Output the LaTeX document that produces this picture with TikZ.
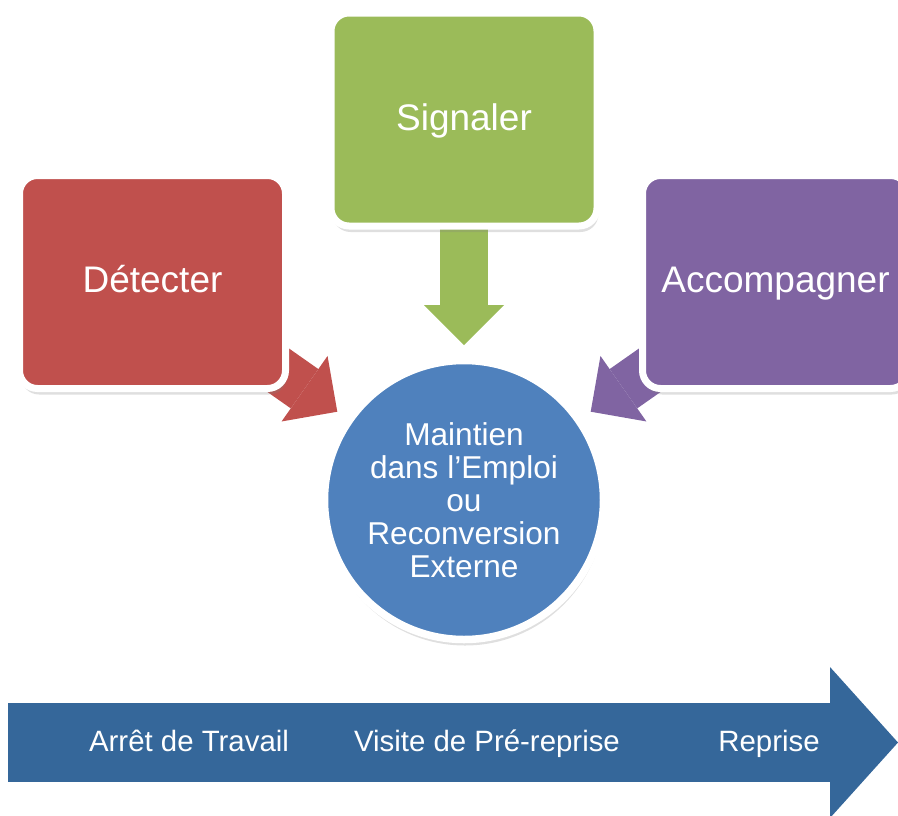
\documentclass[tikz,border=0pt]{standalone}
\usepackage{fontspec}
\setmainfont{Liberation Sans}
\usetikzlibrary{arrows.meta,shadows,backgrounds}

\definecolor{detred}{HTML}{C0504D}
\definecolor{siggreen}{HTML}{9BBB59}
\definecolor{accpurple}{HTML}{8064A2}
\definecolor{goalblue}{HTML}{4F81BD}
\definecolor{timeblue}{HTML}{35679A}

\tikzset{
  stepbox/.style={rounded corners=18pt, draw=white, line width=7pt,
    minimum width=266pt, minimum height=213pt, inner sep=0pt,
    text=white, font=\fontsize{37}{44}\selectfont,
    text height=28pt, text depth=7pt,
    drop shadow={shadow xshift=1.5pt, shadow yshift=-6pt, opacity=.25}},
  goalcircle/.style={circle, draw=white, line width=7.5pt, fill=goalblue,
    minimum size=279pt, inner sep=0pt, align=center,
    text=white, font=\fontsize{31.6}{33}\selectfont,
    drop shadow={shadow xshift=1pt, shadow yshift=-6pt, opacity=.25}},
  blockarrow/.style={line width=48pt,
    -{Triangle[width=80pt, length=40pt, line width=0pt]}},
  timetext/.style={text=white, font=\fontsize{29.4}{33}\selectfont,
    text height=21pt, text depth=6pt}
}

\begin{document}
\begin{tikzpicture}[x=1pt, y=-1pt]
    \useasboundingbox (0,0) rectangle (898,815);
    \clip (0,0) rectangle (898,815);

    % ====== CENTRE ======
    \node[goalcircle] (goal) at (464,500)
      {Maintien\\dans l’Emploi\\ou\\Reconversion\\Externe};

    % ====== THREE STEPS ======
    \node[stepbox, fill=detred] (det) at (152.5,282) {Détecter};
    \node[stepbox, fill=siggreen] (sig) at (464,119.5) {Signaler};
    \node[stepbox, fill=accpurple] (acc) at (775.5,282) {Accompagner};

    % Arrow tips next to the circle
    \coordinate (tipD) at (337.3,411.7);
    \coordinate (tipS) at (464,345);
    \coordinate (tipA) at (590.7,411.7);

    % Block arrows (behind the boxes)
    \begin{scope}[on background layer]
      \draw[blockarrow, detred] (det.center) -- (tipD);
      \draw[blockarrow, siggreen] (sig.center) -- (tipS);
      \draw[blockarrow, accpurple] (acc.center) -- (tipA);
    \end{scope}

    % ====== TIMELINE ======
    \coordinate (tlstart) at (8,742.5);
    \coordinate (tlend) at (898,742.5);
    \draw[timeblue, line width=79pt,
      -{Triangle[width=151pt, length=68pt, line width=0pt]}] (tlstart) -- (tlend);

    \node[timetext] (arret) at (189,744) {Arrêt de Travail};
    \node[timetext] (visite) at (487,744) {Visite de Pré-reprise};
    \node[timetext] (reprise) at (769,744) {Reprise};

  \end{tikzpicture}
\end{document}
